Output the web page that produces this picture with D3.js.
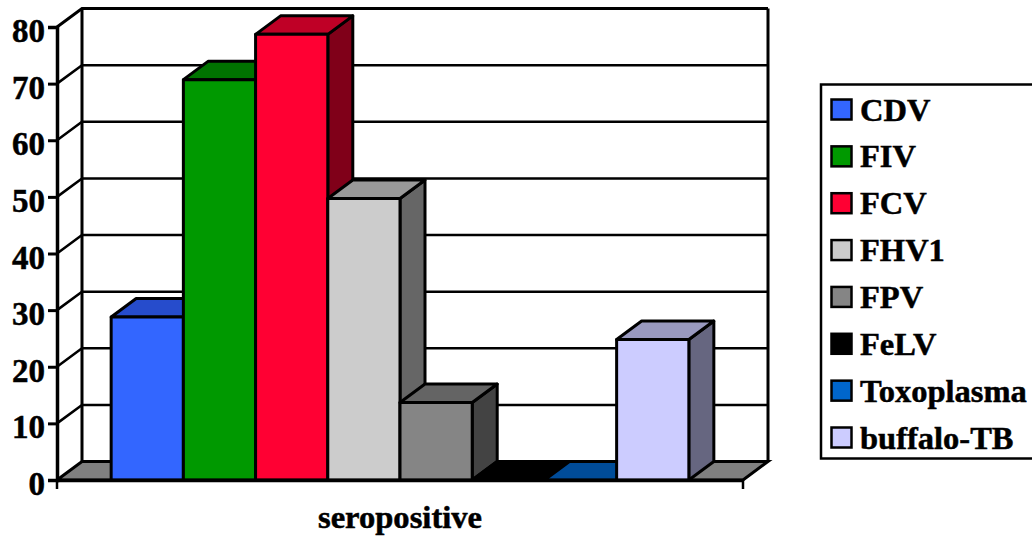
<!DOCTYPE html>
<html lang="en">
<head>
  <meta charset="UTF-8">
  <title>Seropositive</title>
  <script src="https://d3js.org/d3.v7.min.js"></script>
  <style>
    body { margin: 0; background: #fff; overflow: hidden; }
    svg { display: block; }
    text { font-family: "Liberation Serif", serif; font-weight: bold; fill: #000; stroke: #000; stroke-width: 0.5px; }
  </style>
</head>
<body>
  <svg width="1032" height="536"></svg>
  <script>
    const series = ["CDV", "FIV", "FCV", "FHV1", "FPV", "FeLV", "Toxoplasma", "buffalo-TB"];
    const values = [28.8, 70.7, 78.7, 49.7, 13.7, 0, 0, 24.8];
    const frontColors = ["#3366ff", "#009900", "#ff0033", "#cccccc", "#858585", "#000000", "#0066cc", "#ccccff"];
    const topColors = ["#264ccc", "#007300", "#bf0026", "#999999", "#646464", "#000000", "#004c99", "#9999bf"];
    const sideColors = ["#1a3380", "#004d00", "#800019", "#666666", "#434343", "#000000", "#003366", "#666680"];
    const yTicks = [0, 10, 20, 30, 40, 50, 60, 70, 80];
    const category = ["seropositive"];

    const depthX = 25;
    const depthY = -18.5;

    const svg = d3.select("svg");
    const y = d3.scaleLinear().domain([0, 80]).range([480, 27]);
    const x = d3.scaleBand().domain(series).range([57, 743]).paddingInner(0).paddingOuter(0.75);
    const xCat = d3.scaleBand().domain(category).range([57, 743]);
    const poly = pts => "M" + pts.map(p => p.join(",")).join("L") + "Z";

    // floor
    const [x0, x1] = xCat.range();
    svg.append("path")
      .attr("d", poly([[x0, y(0)], [x0 + depthX, y(0) + depthY], [x1 + depthX, y(0) + depthY], [x1, y(0)]]))
      .attr("fill", "#808080").attr("stroke", "#000").attr("stroke-width", 3);

    // back wall and gridlines
    svg.selectAll("path.grid")
      .data(yTicks.slice(1))
      .join("path")
      .attr("class", "grid")
      .attr("fill", "none")
      .attr("stroke", "#000")
      .attr("stroke-width", d => d === 80 ? 3 : 2.5)
      .attr("d", d => `M${x0},${y(d)}L${x0 + depthX},${y(d) + depthY}L${x1 + depthX},${y(d) + depthY}`);
    svg.append("path")
      .attr("d", `M${x0 + depthX},${y(0) + depthY}V${y(80) + depthY}M${x1 + depthX},${y(0) + depthY}V${y(80) + depthY}`)
      .attr("stroke", "#000").attr("stroke-width", 3).attr("fill", "none");

    // bars
    const bars = svg.selectAll("g.bar")
      .data(series)
      .join("g")
      .attr("class", "bar")
      .attr("stroke", "#000")
      .attr("stroke-width", 3)
      .attr("stroke-linejoin", "round");
    const bx = d => x(d);
    const bw = x.bandwidth();
    const val = (d, i) => y(values[i]);
    bars.append("path")
      .attr("fill", (d, i) => sideColors[i])
      .attr("d", (d, i) => poly([[bx(d) + bw, y(0)], [bx(d) + bw + depthX, y(0) + depthY], [bx(d) + bw + depthX, val(d, i) + depthY], [bx(d) + bw, val(d, i)]]));
    bars.append("path")
      .attr("fill", (d, i) => topColors[i])
      .attr("d", (d, i) => poly([[bx(d), val(d, i)], [bx(d) + depthX, val(d, i) + depthY], [bx(d) + bw + depthX, val(d, i) + depthY], [bx(d) + bw, val(d, i)]]));
    bars.append("rect")
      .attr("x", d => bx(d))
      .attr("y", (d, i) => val(d, i))
      .attr("width", bw)
      .attr("height", (d, i) => y(0) - val(d, i))
      .attr("fill", (d, i) => frontColors[i]);

    // axes
    const yAxis = svg.append("g")
      .attr("transform", `translate(${x0},0)`)
      .call(d3.axisLeft(y).tickValues(yTicks).tickSize(9).tickPadding(3));
    yAxis.select(".domain").attr("stroke", "#000").attr("stroke-width", 3.5);
    yAxis.selectAll("line").attr("stroke", "#000").attr("stroke-width", 3);
    yAxis.selectAll("text").style("font-size", "33px").style("font-family", "Liberation Serif").attr("dy", "0.44em");

    const xAxis = svg.append("g")
      .attr("transform", `translate(0,${y(0)})`)
      .call(d3.axisBottom(xCat).tickSize(0).tickPadding(25));
    xAxis.select(".domain").attr("stroke", "#000").attr("stroke-width", 3.5);
    xAxis.selectAll("text").style("font-size", "32.6px").style("font-family", "Liberation Serif");
    xAxis.selectAll("line.end")
      .data(xCat.range())
      .join("line")
      .attr("class", "end")
      .attr("x1", d => d).attr("x2", d => d)
      .attr("y1", 0).attr("y2", 9)
      .attr("stroke", "#000").attr("stroke-width", 2.5);

    // legend
    const legend = svg.append("g");
    legend.append("rect")
      .attr("x", 821).attr("y", 84.5).attr("width", 240).attr("height", 374)
      .attr("fill", "#fff").attr("stroke", "#000").attr("stroke-width", 2.5);
    const legendY = d3.scalePoint().domain(series).range([109.5, 437.5]);
    const items = legend.selectAll("g.item")
      .data(series)
      .join("g")
      .attr("class", "item")
      .attr("transform", d => `translate(0,${legendY(d)})`);
    items.append("rect")
      .attr("x", 831.5).attr("y", -10).attr("width", 20).attr("height", 20)
      .attr("fill", (d, i) => frontColors[i])
      .attr("stroke", "#000").attr("stroke-width", 2.5);
    items.append("text")
      .attr("x", 860).attr("y", 11)
      .style("font-size", "32.5px")
      .text(d => d);
  </script>
</body>
</html>
